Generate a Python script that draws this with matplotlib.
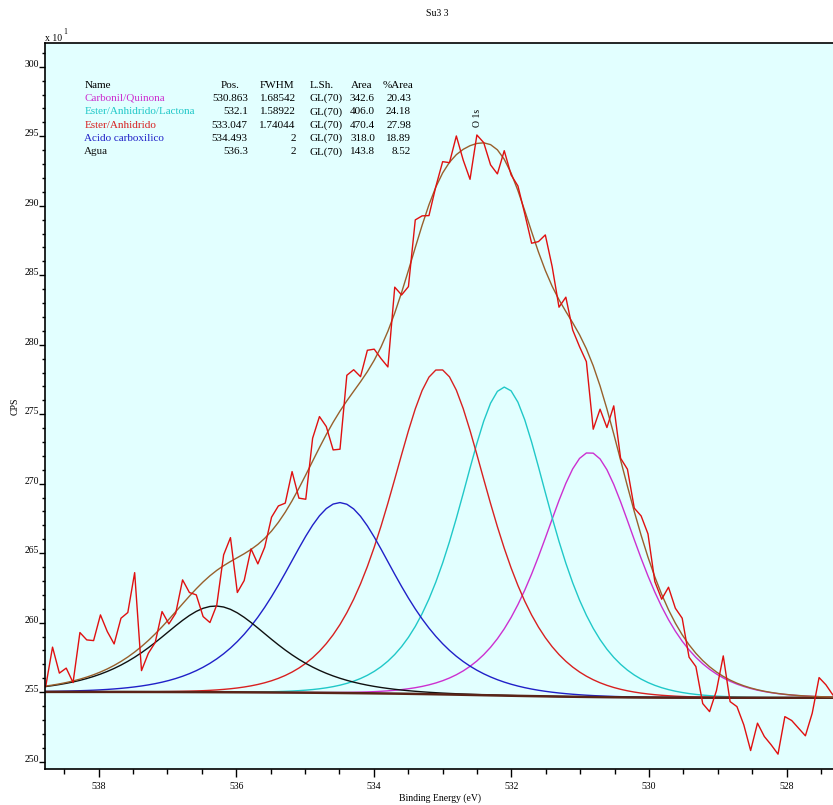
import numpy as np
import matplotlib.pyplot as plt
from matplotlib.ticker import MultipleLocator

plt.rcParams['font.family'] = ['Liberation Serif', 'DejaVu Serif']

# fitted components (O 1s region)
names = ['Carbonil/Quinona', 'Ester/Anhidrido/Lactona', 'Ester/Anhidrido',
         'Acido carboxilico', 'Agua']
positions = [530.863, 532.1, 533.047, 534.493, 536.3]
fwhm = [1.68542, 1.58922, 1.74044, 2, 2]
lineshape = ['GL(70)', 'GL(70)', 'GL(70)', 'GL(70)', 'GL(70)']
areas = [342.6, 406.0, 470.4, 318.0, 143.8]
pct_area = [20.43, 24.18, 27.98, 18.89, 8.52]
heights = [17.6, 22.2, 23.4, 13.7, 6.2]
colors = ['#cc30d0', '#20c8c8', '#d82020', '#2020c8', '#101010']

# Shirley end points (CPS x 10)
bg_left, bg_right = 255.02, 254.60

# measured spectrum, 0.1 eV channels from 538.77 eV downwards (CPS x 10)
counts = [
    255.40, 258.24, 256.37, 256.73, 255.69, 259.29, 258.76, 258.71, 260.56, 259.36,
    258.47, 260.32, 260.73, 263.60, 256.55, 257.80, 258.57, 260.80, 259.91, 260.68,
    263.08, 262.17, 262.00, 260.44, 260.01, 261.28, 264.88, 266.12, 262.17, 263.03,
    265.31, 264.23, 265.43, 267.59, 268.40, 268.60, 270.87, 268.96, 268.88, 273.27,
    274.83, 274.11, 272.43, 272.48, 277.80, 278.20, 277.70, 279.60, 279.68, 279.00,
    278.40, 284.14, 283.58, 284.18, 288.98, 289.27, 289.29, 291.37, 293.17, 293.10,
    295.02, 293.29, 291.90, 295.09, 294.54, 292.94, 292.29, 293.96, 292.22, 291.42,
    289.41, 287.30, 287.42, 287.90, 285.62, 282.70, 283.42, 281.06, 279.86, 278.78,
    273.92, 275.36, 274.04, 275.60, 271.83, 271.04, 268.24, 267.68, 266.39, 262.96,
    261.69, 262.55, 261.04, 260.32, 257.52, 256.84, 254.18, 253.60, 255.10, 257.61,
    254.32, 253.96, 252.65, 250.80, 252.77, 251.81, 251.21, 250.54, 253.24, 252.96,
    252.41, 251.86, 253.49, 256.05, 255.53, 254.81,
]
energy = np.linspace(538.77, 527.33, len(counts))


def gl_shape(u2, mix=0.7):
    return np.exp(-4 * np.log(2) * (1 - mix) * u2) / (1 + 4 * mix * u2)


# half width of the product GL(70) in units of its width parameter,
# used so that each component's full width at half maximum equals its FWHM
_u = np.linspace(0, 1, 20001)
HALF = _u[np.argmin(np.abs(gl_shape(_u ** 2) - 0.5))]


def gl(x, pos, width):
    u2 = ((x - pos) * 2 * HALF / width) ** 2
    return gl_shape(u2)


peaks = [h * gl(energy, p, w) for h, p, w in zip(heights, positions, fwhm)]
total = np.sum(peaks, axis=0)
# Shirley-type step: background follows the peak area on the low BE side
cum = np.cumsum(total[::-1])[::-1]
bg = bg_right + (bg_left - bg_right) * cum / cum[0]
envelope = bg + total

W, H = 833, 805
fig = plt.figure(figsize=(W / 100, H / 100), dpi=100)
ax = fig.add_axes([45 / W, (H - 769.3) / H, (836 - 45) / W, (769.3 - 42.7) / H])
ax.set_facecolor('#e2ffff')

for pk, c in zip(peaks, colors):
    ax.plot(energy, bg + pk, color=c, lw=1.0)
ax.plot(energy, bg, color='#5a2418', lw=1.8)
ax.plot(energy, envelope, color='#98602c', lw=1.0)
ax.plot(energy, counts, color='#e01010', lw=1.0)

ax.set_xlim(538.78, 527.283)
ax.set_ylim(249.45, 301.73)
ax.xaxis.set_major_locator(MultipleLocator(2))
ax.xaxis.set_minor_locator(MultipleLocator(0.5))
ax.yaxis.set_major_locator(MultipleLocator(5))
ax.yaxis.set_minor_locator(MultipleLocator(1))
ax.tick_params(axis='x', which='major', direction='out', length=6, width=1,
               labelsize=7, pad=3)
ax.tick_params(axis='x', which='minor', direction='out', length=3.5, width=1)
ax.tick_params(axis='y', which='major', direction='out', length=4, width=1,
               labelsize=7, pad=0)
ax.tick_params(axis='y', which='minor', direction='out', length=2, width=1)
for lab in ax.get_yticklabels():
    lab.set_va('baseline')
for s in ax.spines.values():
    s.set_linewidth(1.2)

ax.set_xlabel('Binding Energy (eV)', fontsize=7, labelpad=2)
ax.set_ylabel('CPS', fontsize=7, labelpad=4)


def ftext(x, y, s, **kw):
    fig.text(x / W, 1 - y / H, s, **kw)


ftext(437, 14, 'Su3 3', fontsize=7, ha='center', va='center')
ftext(45, 38.5, 'x 10', fontsize=7, ha='left', va='center')
ftext(63.5, 32.5, '1', fontsize=5.5, ha='left', va='center')
ftext(478, 118, 'O 1s', fontsize=7, ha='center', va='center', rotation=90)

# component table
row_y = [85, 98.3, 111.7, 125, 138.3, 151.7]
fs = 8
for x, s in zip([84.3, 221, 260, 310, 350.7, 382.7],
                ['Name', 'Pos.', 'FWHM', 'L.Sh.', 'Area', '%Area']):
    ftext(x, row_y[0], s, fontsize=fs, ha='left', va='center')
for i in range(len(names)):
    y = row_y[i + 1]
    ftext(84.3, y, names[i], fontsize=fs, color=colors[i], ha='left', va='center')
    ftext(247.7, y, f'{positions[i]:g}', fontsize=fs, ha='right', va='center')
    ftext(295.7, y, f'{fwhm[i]:g}', fontsize=fs, ha='right', va='center')
    ftext(309.3, y, lineshape[i], fontsize=fs, ha='left', va='center')
    ftext(375, y, f'{areas[i]:.1f}', fontsize=fs, ha='right', va='center')
    ftext(411, y, f'{pct_area[i]:.2f}', fontsize=fs, ha='right', va='center')

fig.savefig('out.png', dpi=100)
